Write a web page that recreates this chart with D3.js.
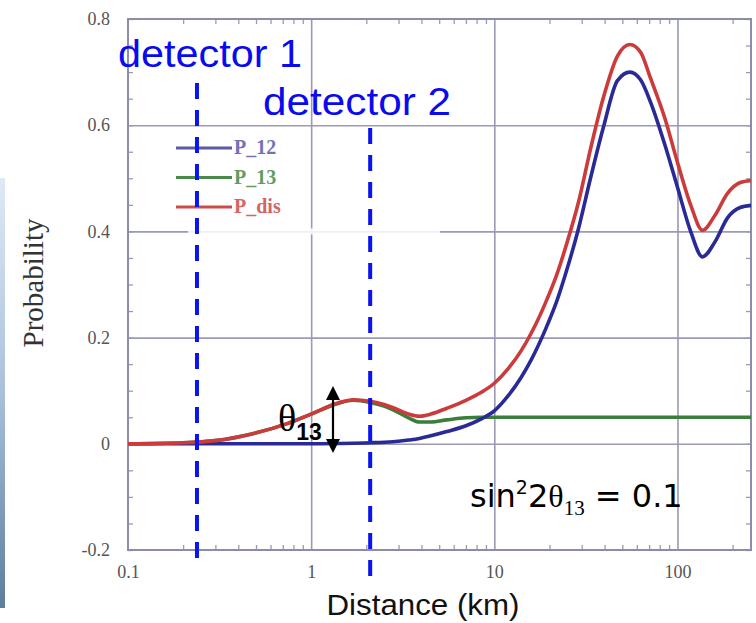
<!DOCTYPE html>
<html><head><meta charset="utf-8">
<script src="https://cdn.jsdelivr.net/npm/d3@7"></script>
<style>body{margin:0;background:#fff}svg{display:block}</style>
</head><body>
<script>
// ---- data ----
const distance = [0.1,0.2,0.3,0.48,0.74,1.0,1.4,1.7,2.1,2.5,2.8,3.4,3.9,4.5,5.5,7,8.5,10,12,14,16,19,22,25,28.8,33.5,39.4,47,55,63,71,85,100,118,137,160,188,220,252];
const p12 = [0,0,0,0,0,0,0.0005,0.001,0.002,0.003,0.004,0.007,0.010,0.015,0.023,0.034,0.047,0.062,0.092,0.125,0.16,0.215,0.27,0.33,0.405,0.50,0.596,0.684,0.700,0.685,0.645,0.565,0.483,0.40,0.352,0.38,0.426,0.445,0.449];
const p13 = [0,0.002,0.006,0.019,0.038,0.056,0.076,0.082,0.078,0.071,0.064,0.049,0.041,0.041,0.045,0.049,0.050,0.050,0.050,0.050,0.050,0.050,0.050,0.050,0.050,0.050,0.050,0.050,0.050,0.050,0.050,0.050,0.050,0.050,0.050,0.050,0.050,0.050,0.050];
const pdis = [0,0.002,0.006,0.019,0.038,0.056,0.077,0.083,0.080,0.074,0.068,0.056,0.052,0.056,0.067,0.082,0.097,0.114,0.143,0.175,0.21,0.265,0.32,0.38,0.455,0.555,0.652,0.73,0.752,0.737,0.69,0.615,0.53,0.45,0.402,0.43,0.472,0.492,0.496];
const seriesNames = ["P_12","P_13","P_dis"];
const yTickValues = [-0.2,0,0.2,0.4,0.6,0.8];
const yTickLabels = ["-0.2","0","0.2","0.4","0.6","0.8"];
const xTickValues = [0.1,1,10,100];
const xTickLabels = ["0.1","1","10","100"];
const detectors = [0.238, 2.1];
const detectorLabels = ["detector 1","detector 2"];

// ---- drawing ----
const W = 756, H = 623;
const svg = d3.select("body").append("svg").attr("width", W).attr("height", H);
const x = d3.scaleLog().domain([0.1, 252]).range([128, 751]);
const y = d3.scaleLinear().domain([-0.2, 0.8]).range([550, 19]);
const gridCol = "#9a9ab4";

// left-edge photo strip
const defs = svg.append("defs");
const lg = defs.append("linearGradient").attr("id","edge").attr("x1",0).attr("y1",0).attr("x2",0).attr("y2",1);
lg.append("stop").attr("offset","0").attr("stop-color","#dfe9f6");
lg.append("stop").attr("offset","0.5").attr("stop-color","#a9c0da");
lg.append("stop").attr("offset","1").attr("stop-color","#5d7d9e");
svg.append("rect").attr("x",0).attr("y",178).attr("width",5).attr("height",430).attr("fill","url(#edge)");

// grid lines
svg.append("g").attr("transform","translate(128,0)")
  .call(d3.axisLeft(y).tickValues([0,0.2,0.4,0.6]).tickSize(-623).tickFormat(""))
  .call(g => { g.select(".domain").remove(); g.selectAll("line").attr("stroke",gridCol).attr("stroke-width",1.6); });
svg.append("g").attr("transform","translate(0,550)")
  .call(d3.axisBottom(x).tickValues([1,10,100]).tickSize(-531).tickFormat(""))
  .call(g => { g.select(".domain").remove(); g.selectAll("line").attr("stroke",gridCol).attr("stroke-width",1.6); });

// faded-out gap in the 0.4 grid line (covered by white text in the reference)
svg.append("rect").attr("x",188).attr("y",y(0.4)-3).attr("width",252).attr("height",6).attr("fill","#fff").attr("opacity",0.85);

// minor ticks
const yMinor = d3.range(-0.2, 0.8001, 0.05);
const xMinor = [];
[0.1,1,10,100].forEach(d => { for (let k=2;k<=9;k++){ if (d*k<=252) xMinor.push(d*k); } });
function styleTicks(g){ g.select(".domain").remove(); g.selectAll("line").attr("stroke",gridCol).attr("stroke-width",1.3); }
svg.append("g").attr("transform","translate(128,0)").call(d3.axisLeft(y).tickValues(yMinor).tickSize(-5).tickFormat("")).call(styleTicks);
svg.append("g").attr("transform","translate(751,0)").call(d3.axisRight(y).tickValues(yMinor).tickSize(-5).tickFormat("")).call(styleTicks);
svg.append("g").attr("transform","translate(0,550)").call(d3.axisBottom(x).tickValues(xMinor).tickSize(-5).tickFormat("")).call(styleTicks);
svg.append("g").attr("transform","translate(0,19)").call(d3.axisTop(x).tickValues(xMinor).tickSize(-5).tickFormat("")).call(styleTicks);

// frame
svg.append("rect").attr("x",128).attr("y",19).attr("width",623).attr("height",531)
  .attr("fill","none").attr("stroke","#8c8cab").attr("stroke-width",2);

// tick labels
svg.append("g").attr("transform","translate(128,0)")
  .call(d3.axisLeft(y).tickValues(yTickValues).tickSize(0).tickPadding(18).tickFormat((d,i)=>yTickLabels[i]))
  .call(g => { g.select(".domain").remove(); g.selectAll("text").attr("font-family","Liberation Serif, Times New Roman, serif").attr("font-size",18).attr("fill","#555"); });
svg.append("g").attr("transform","translate(0,550)")
  .call(d3.axisBottom(x).tickValues(xTickValues).tickSize(0).tickPadding(15).tickFormat((d,i)=>xTickLabels[i]))
  .call(g => { g.select(".domain").remove(); g.selectAll("text").attr("font-family","Liberation Serif, Times New Roman, serif").attr("font-size",18).attr("fill","#555"); });

// axis titles
svg.append("text").attr("transform","translate(43,283) rotate(-90)").attr("text-anchor","middle")
  .attr("font-family","Liberation Serif, Times New Roman, serif").attr("font-size",29).attr("fill","#333").text("Probability");
svg.append("rect").attr("x",306).attr("y",578).attr("width",240).attr("height",45).attr("fill","#fff");
svg.append("text").attr("x",423).attr("y",615).attr("text-anchor","middle")
  .attr("font-family","Liberation Sans, Arial, sans-serif").attr("font-size",29).attr("fill","#111")
  .attr("textLength",193).attr("lengthAdjust","spacingAndGlyphs").text("Distance (km)");

// curves
const line = d3.line().x(d=>x(d[0])).y(d=>y(d[1])).curve(d3.curveMonotoneX);
const series = [
  {name:"P_13", vals:p13, color:"#3b7d3b"},
  {name:"P_12", vals:p12, color:"#2a2a96"},
  {name:"P_dis", vals:pdis, color:"#cc3b3b"}
];
series.forEach(s => {
  svg.append("path").datum(distance.map((d,i)=>[d,s.vals[i]])).attr("d",line)
    .attr("fill","none").attr("stroke",s.color).attr("stroke-width",3.6).attr("stroke-linejoin","round");
});

// legend
const legendColors = {"P_12":"#5a5aa8","P_13":"#4a8a4a","P_dis":"#d04a4a"};
seriesNames.forEach((n,i) => {
  const ly = 148 + i*29.5;
  svg.append("line").attr("x1",176).attr("x2",232).attr("y1",ly).attr("y2",ly).attr("stroke",legendColors[n]).attr("stroke-width",3);
  svg.append("text").attr("x",234).attr("y",ly+6).attr("font-family","Liberation Serif, Times New Roman, serif")
    .attr("font-size",20).attr("font-weight","bold").attr("fill",legendColors[n]).attr("opacity",0.85).text(n);
});

// detectors
const detTop = [83,128], detBottom = [566,584], labX = [118,263], labY = [67,115], labW = [184,188];
detectors.forEach((d,i) => {
  svg.append("line").attr("x1",x(d)).attr("x2",x(d)).attr("y1",detTop[i]).attr("y2",detBottom[i])
    .attr("stroke","#0a14ee").attr("stroke-width",4).attr("stroke-dasharray","16,11");
  svg.append("text").attr("x",labX[i]).attr("y",labY[i]).attr("font-family","Liberation Sans, Arial, sans-serif")
    .attr("font-size",38).attr("fill","#0a0aee").attr("textLength",labW[i]).attr("lengthAdjust","spacingAndGlyphs").text(detectorLabels[i]);
});

// theta13 annotation
const ax = 333;
svg.append("line").attr("x1",ax).attr("x2",ax).attr("y1",398).attr("y2",443).attr("stroke","#000").attr("stroke-width",2.2);
svg.append("path").attr("d",`M${ax},386 L${ax-7},400 L${ax+7},400 Z`).attr("fill","#000");
svg.append("path").attr("d",`M${ax},453 L${ax-7},439 L${ax+7},439 Z`).attr("fill","#000");
const th = svg.append("text").attr("x",278).attr("y",431).attr("fill","#000");
th.append("tspan").attr("font-family","Liberation Serif, Times New Roman, serif").attr("font-size",38).text("θ");
th.append("tspan").attr("font-family","Liberation Sans, Arial, sans-serif").attr("font-weight","bold").attr("font-size",23).attr("dy",9).text("13");

// sin^2 2theta13 label
const sl = svg.append("text").attr("x",470).attr("y",507).attr("fill","#000").attr("font-family","DejaVu Sans, Verdana, sans-serif").attr("font-size",32);
sl.append("tspan").text("sin");
sl.append("tspan").attr("font-size",19).attr("dy",-13).text("2");
sl.append("tspan").attr("dy",13).text("2");
sl.append("tspan").attr("font-family","Liberation Serif, Times New Roman, serif").attr("font-size",32).text("θ");
sl.append("tspan").attr("font-family","Liberation Serif, Times New Roman, serif").attr("font-size",21).attr("dy",8).text("13");
sl.append("tspan").attr("dy",-8).text(" = 0.1");
</script>
</body></html>
